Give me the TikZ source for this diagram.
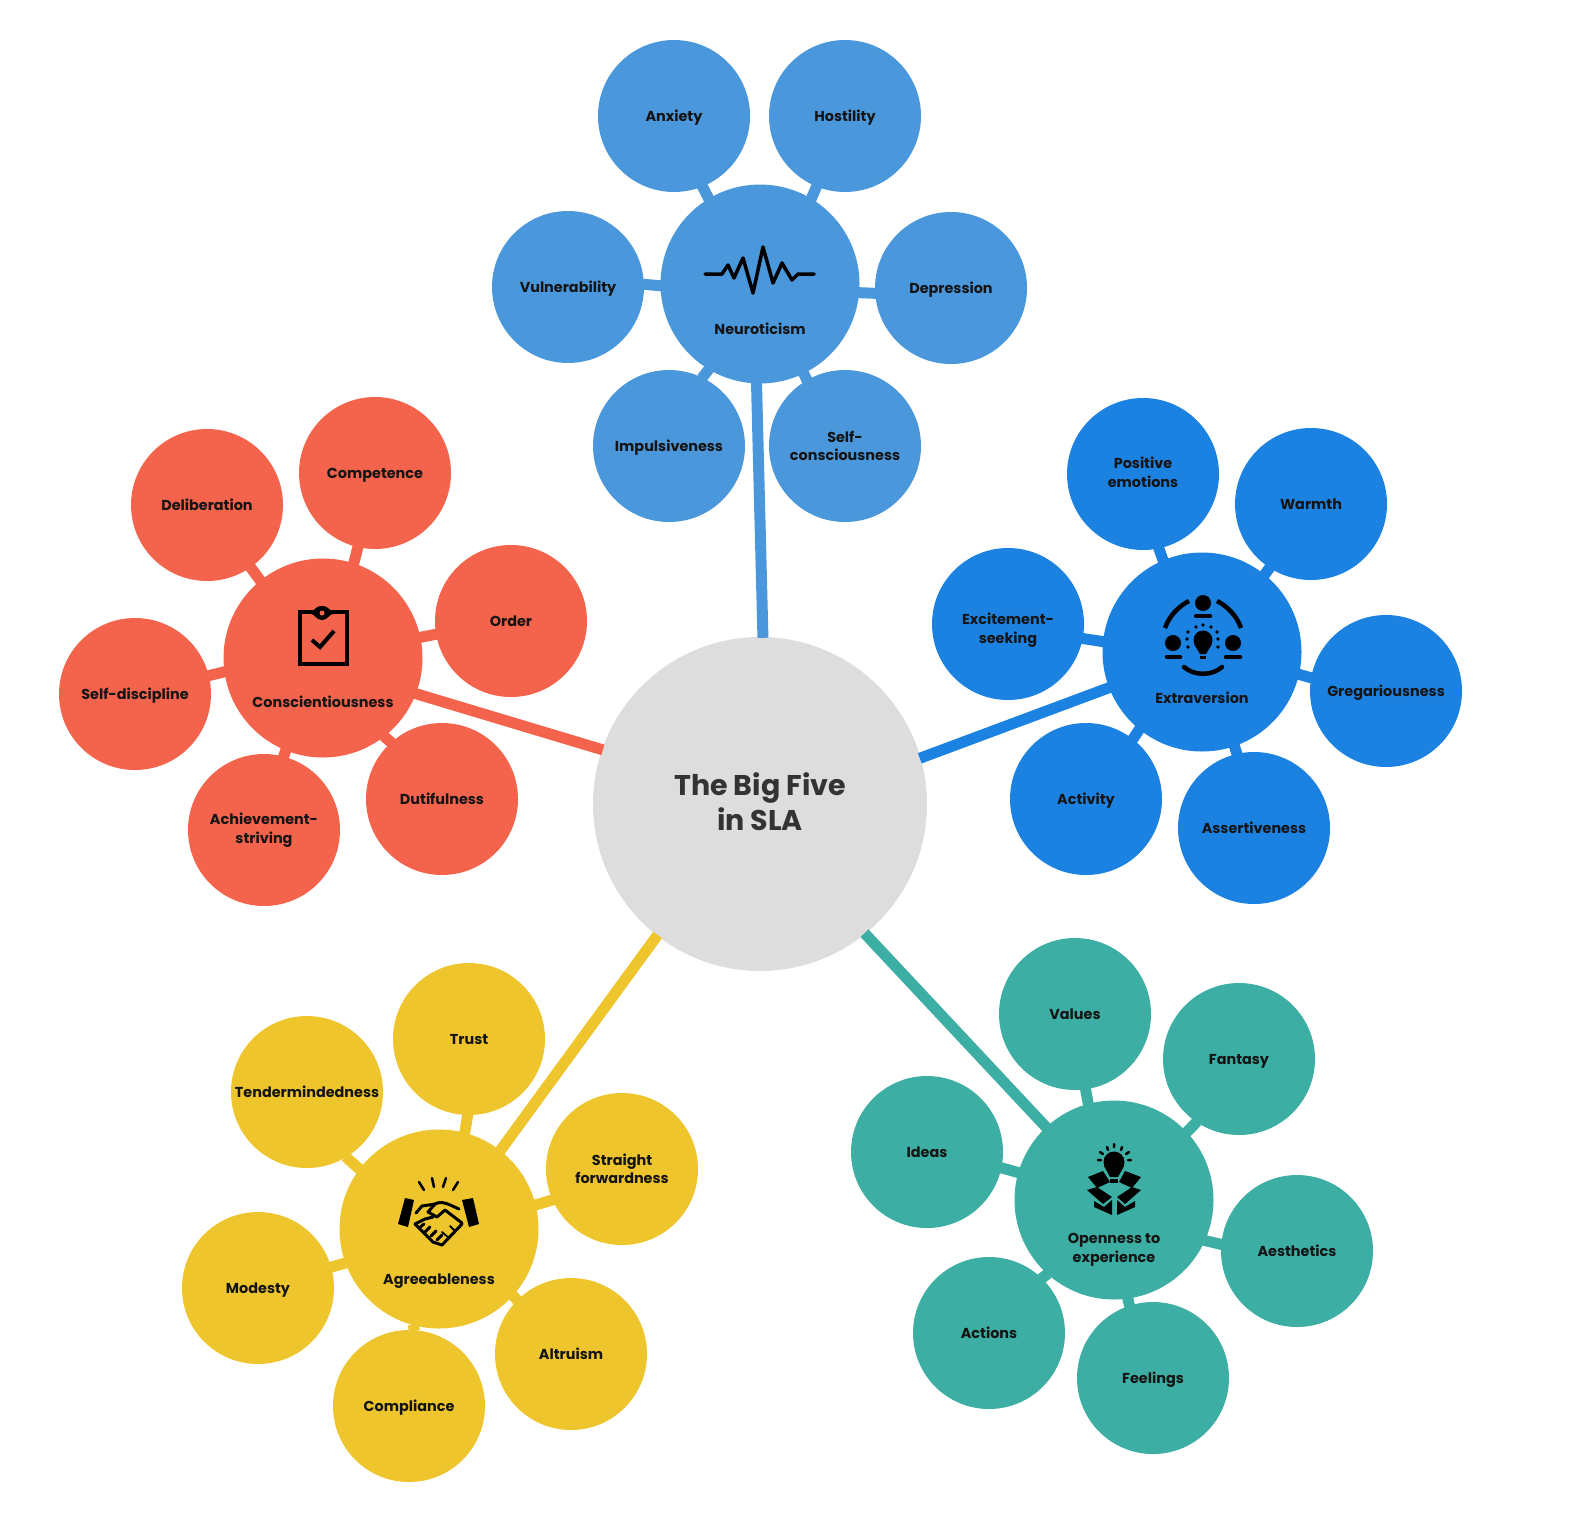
\documentclass[tikz,border=0pt]{standalone}
\usepackage{fontspec}
\setmainfont{Poppins}
\usepackage{xcolor}
\usepackage{tikz}
\definecolor{neuroblue}{HTML}{4A98DB}
\definecolor{extrablue}{HTML}{1B82E2}
\definecolor{conscred}{HTML}{F4634B}
\definecolor{agreeyellow}{HTML}{EFC52E}
\definecolor{openteal}{HTML}{3CAEA3}
\definecolor{rootgray}{HTML}{DDDDDD}
\definecolor{inktext}{HTML}{141414}
\tikzset{
    discnode/.style={circle, inner sep=0pt, align=center, font=\fontsize{14.4}{18.5}\selectfont\bfseries, text=inktext},
    leafnode/.style={discnode, minimum size=152pt, text height=14pt, text depth=3pt},
    twolines/.style={text height=, text depth=},
    hubnode/.style={discnode, minimum size=199pt},
    rootnode/.style={discnode, minimum size=334pt, fill=rootgray, text=black!80, font=\fontsize{28.5}{35}\selectfont\bfseries},
    hubtext/.style={align=center, inner sep=0pt, font=\fontsize{14.4}{18.5}\selectfont\bfseries, text=inktext},
    spoke/.style={line width=11pt, shorten >=-1pt, shorten <=-1pt},
    iconline/.style={draw=black, line width=3.5pt, line cap=round, line join=round},
    iconfill/.style={fill=black, line join=round}
}
\begin{document}
\begin{tikzpicture}[x=1pt, y=-1pt]
        \useasboundingbox (0,0) rectangle (1578,1534);
        \node[rootnode] (root) at (760,804) {The Big Five\\in SLA\rule[-5pt]{0pt}{0pt}};

        \node[hubnode, fill=neuroblue] (neuro) at (760,284) {};
        \node[leafnode, fill=neuroblue] (anxiety) at (674,116) {Anxiety};
        \node[leafnode, fill=neuroblue] (hostility) at (845,116) {Hostility};
        \node[leafnode, fill=neuroblue] (depression) at (951,288) {Depression};
        \node[leafnode, twolines, fill=neuroblue] (selfcons) at (845,446) {Self-\\consciousness};
        \node[leafnode, fill=neuroblue] (impulsive) at (669,446) {Impulsiveness};
        \node[leafnode, fill=neuroblue] (vulnerable) at (568,287) {Vulnerability};
        \node[hubtext] (neurotext) at (760,329) {Neuroticism};
        \draw[spoke, neuroblue] (neuro.121) -- (anxiety.292);
        \draw[spoke, neuroblue] (neuro.59) -- (hostility.248);
        \draw[spoke, neuroblue] (neuro.355) -- (depression.184);
        \draw[spoke, neuroblue] (neuro.296) -- (selfcons.120);
        \draw[spoke, neuroblue] (neuro.239) -- (impulsive.64);
        \draw[spoke, neuroblue] (neuro.181) -- (vulnerable.2);
        \draw[spoke, neuroblue] (root.89) -- (neuro.268);
        \draw[iconline] (705,274) -- (722,274) -- (728,265) -- (734,278) -- (743,258) -- (753,293) -- (763,247) -- (773,283) -- (782,263) -- (792,280) -- (798,274) -- (814,274);

        \node[hubnode, fill=extrablue] (extra) at (1202,652) {};
        \node[leafnode, twolines, fill=extrablue] (positive) at (1143,474) {Positive\\emotions\rule[-4pt]{0pt}{0pt}};
        \node[leafnode, fill=extrablue] (warmth) at (1311,504) {Warmth};
        \node[leafnode, fill=extrablue] (gregarious) at (1386,691) {Gregariousness};
        \node[leafnode, fill=extrablue] (assertive) at (1254,828) {Assertiveness};
        \node[leafnode, fill=extrablue] (activity) at (1086,799) {Activity};
        \node[leafnode, twolines, fill=extrablue] (excitement) at (1008,624) {\rule{0pt}{24pt}Excitement-\\seeking};
        \node[hubtext] (extratext) at (1202,698) {Extraversion};
        \draw[spoke, extrablue] (extra.113) -- (positive.282);
        \draw[spoke, extrablue] (extra.51) -- (warmth.237);
        \draw[spoke, extrablue] (extra.347) -- (gregarious.170);
        \draw[spoke, extrablue] (extra.289) -- (assertive.103);
        \draw[spoke, extrablue] (extra.231) -- (activity.52);
        \draw[spoke, extrablue] (extra.174) -- (excitement.349);
        \draw[spoke, extrablue] (root.16) -- (extra.201);
        \draw[iconline, line width=4.5pt, line cap=butt] (1165,628) .. controls (1169,616) and (1179,606) .. (1189,601);
        \draw[iconline, line width=4.5pt, line cap=butt] (1217,601) .. controls (1227,606) and (1237,616) .. (1241,628);
        \draw[iconline, line width=4.5pt] (1184,667) .. controls (1194,676) and (1212,676) .. (1222,667);
        \fill[iconfill] (1203,603) circle (8) (1173,643) circle (8) (1233,643) circle (8);
        \draw[iconline, line width=4.5pt] (1196,616) -- (1210,616) (1167,657) -- (1180,657) (1226,657) -- (1240,657);
        \fill[iconfill] (1203,640) circle (9.5) (1194,644) -- (1212,644) -- (1206,654) -- (1200,654) -- cycle;
        \fill[iconfill] (1200,656) rectangle (1206,659);
        \fill[iconfill] (1188,632) circle (1.8) (1196,627) circle (1.8) (1203,625) circle (1.8) (1211,627) circle (1.8) (1217,632) circle (1.8) (1187,639) circle (1.8) (1218,639) circle (1.8) (1188,647) circle (1.8) (1218,647) circle (1.8);

        \node[hubnode, fill=conscred] (consc) at (323,658) {};
        \node[leafnode, fill=conscred] (competence) at (375,473) {Competence};
        \node[leafnode, fill=conscred] (deliberate) at (207,505) {Deliberation};
        \node[leafnode, fill=conscred] (order) at (511,621) {Order};
        \node[leafnode, fill=conscred] (selfdisc) at (135,694) {Self-discipline};
        \node[leafnode, fill=conscred] (dutiful) at (442,799) {Dutifulness};
        \node[leafnode, twolines, fill=conscred] (achieve) at (264,830) {Achievement-\\striving};
        \node[hubtext] (consctext) at (323,702) {Conscientiousness};
        \draw[spoke, conscred] (consc.72) -- (competence.257);
        \draw[spoke, conscred] (consc.129) -- (deliberate.305);
        \draw[spoke, conscred] (consc.12) -- (order.190);
        \draw[spoke, conscred] (consc.188) -- (selfdisc.14);
        \draw[spoke, conscred] (consc.308) -- (dutiful.132);
        \draw[spoke, conscred] (consc.248) -- (achieve.75);
        \draw[spoke, conscred] (root.161) -- (consc.339);
        \draw[iconline, line cap=butt, line join=miter, line width=3.4pt] (300,612) rectangle (347,664);
        \fill[iconfill] (311,611) .. controls (315,611) and (315,606) .. (322,606) .. controls (329,606) and (329,611) .. (333,611) -- (333,614) .. controls (329,614) and (328,620) .. (322,620) .. controls (316,620) and (315,614) .. (311,614) -- cycle;
        \fill[conscred] (322,613) circle (2.5);
        \draw[iconline, line width=4pt, line cap=butt, line join=miter] (312,640) -- (320,647) -- (334,631);

        \node[hubnode, fill=agreeyellow] (agree) at (439,1229) {};
        \node[leafnode, fill=agreeyellow] (trust) at (469,1039) {Trust};
        \node[leafnode, fill=agreeyellow] (tender) at (307,1092) {Tendermindedness};
        \node[leafnode, twolines, fill=agreeyellow] (straight) at (622,1169) {Straight\\forwardness};
        \node[leafnode, fill=agreeyellow] (modesty) at (258,1288) {Modesty};
        \node[leafnode, fill=agreeyellow] (comply) at (409,1406) {Compliance};
        \node[leafnode, fill=agreeyellow] (altruism) at (571,1354) {Altruism};
        \node[hubtext] (agreetext) at (439,1281) {Agreeableness};
        \draw[spoke, agreeyellow] (agree.75) -- (trust.269);
        \draw[spoke, agreeyellow] (agree.143) -- (tender.301);
        \draw[spoke, agreeyellow] (agree.14) -- (straight.204);
        \draw[spoke, agreeyellow] (agree.200) -- (modesty.16);
        \draw[spoke, agreeyellow] (agree.255) -- (comply.86);
        \draw[spoke, agreeyellow] (agree.318) -- (altruism.135);
        \draw[spoke, agreeyellow] (root.232) -- (agree.52);
        \fill[iconfill] (405,1198) -- (414,1200) -- (408,1227) -- (398,1224) -- cycle;
        \fill[iconfill] (462,1200) -- (473,1198) -- (479,1224) -- (469,1227) -- cycle;
        \draw[iconline, line width=2.5pt] (419,1182) -- (424,1190) (432,1178) -- (434,1187) (446,1178) -- (443,1187) (458,1182) -- (453,1190);
        \draw[iconline, line width=3pt] (415,1224) -- (433,1242) -- (442,1245) -- (462,1224);
        \draw[iconline, line width=3pt] (416,1213) -- (422,1206) -- (435,1204) -- (428,1212) -- (437,1217) -- (445,1210) -- (462,1223);
        \draw[iconline, line width=3pt] (435,1204) .. controls (442,1200) and (450,1205) .. (459,1209);
        \draw[iconline, line width=3pt] (415,1224) -- (425,1219) -- (433,1217);
        \draw[iconline, line width=3pt] (419,1228) -- (424,1224) (425,1232) -- (430,1227) (431,1236) -- (436,1231) (437,1240) -- (442,1235);
        \draw[iconline, line width=1.8pt] (442,1232) -- (449,1238) (450,1226) -- (455,1231);

        \node[hubnode, fill=openteal] (open) at (1114,1200) {};
        \node[leafnode, fill=openteal] (values) at (1075,1014) {Values};
        \node[leafnode, fill=openteal] (fantasy) at (1239,1059) {Fantasy};
        \node[leafnode, fill=openteal] (ideas) at (927,1152) {Ideas};
        \node[leafnode, fill=openteal] (aesthetics) at (1297,1251) {Aesthetics};
        \node[leafnode, fill=openteal] (actions) at (989,1333) {Actions};
        \node[leafnode, fill=openteal] (feelings) at (1153,1378) {Feelings};
        \node[hubtext] (opentext) at (1114,1250) {Openness to\\experience};
        \draw[spoke, openteal] (open.105) -- (values.278);
        \draw[spoke, openteal] (open.43) -- (fantasy.236);
        \draw[spoke, openteal] (open.164) -- (ideas.348);
        \draw[spoke, openteal] (open.336) -- (aesthetics.175);
        \draw[spoke, openteal] (open.228) -- (actions.46);
        \draw[spoke, openteal] (open.278) -- (feelings.108);
        \draw[spoke, openteal] (root.309) -- (open.133);
        \fill[iconfill] (1114,1162) circle (10.5) (1104,1166) -- (1124,1166) -- (1118,1177) -- (1110,1177) -- cycle;
        \fill[iconfill] (1110,1179) rectangle (1118,1183);
        \draw[iconline, line width=2.5pt] (1098,1160) -- (1101,1160) (1100,1152) -- (1103,1154) (1107,1147) -- (1108,1150) (1114,1144) -- (1114,1147) (1122,1147) -- (1121,1150) (1129,1152) -- (1126,1154) (1131,1160) -- (1128,1160);
        \fill[iconfill] (1088,1177) -- (1103,1171) -- (1110,1182) -- (1097,1188) -- cycle;
        \fill[iconfill] (1125,1171) -- (1141,1177) -- (1132,1188) -- (1119,1182) -- cycle;
        \fill[iconfill] (1087,1190) -- (1097,1187) -- (1112,1197) -- (1103,1204) -- cycle;
        \fill[iconfill] (1117,1197) -- (1132,1187) -- (1141,1190) -- (1125,1204) -- cycle;
        \fill[iconfill] (1094,1201) -- (1104,1207) -- (1112,1200) -- (1112,1215) -- (1094,1207) -- cycle;
        \fill[iconfill] (1117,1200) -- (1125,1207) -- (1135,1201) -- (1135,1207) -- (1117,1215) -- cycle;
    \end{tikzpicture}
\end{document}
